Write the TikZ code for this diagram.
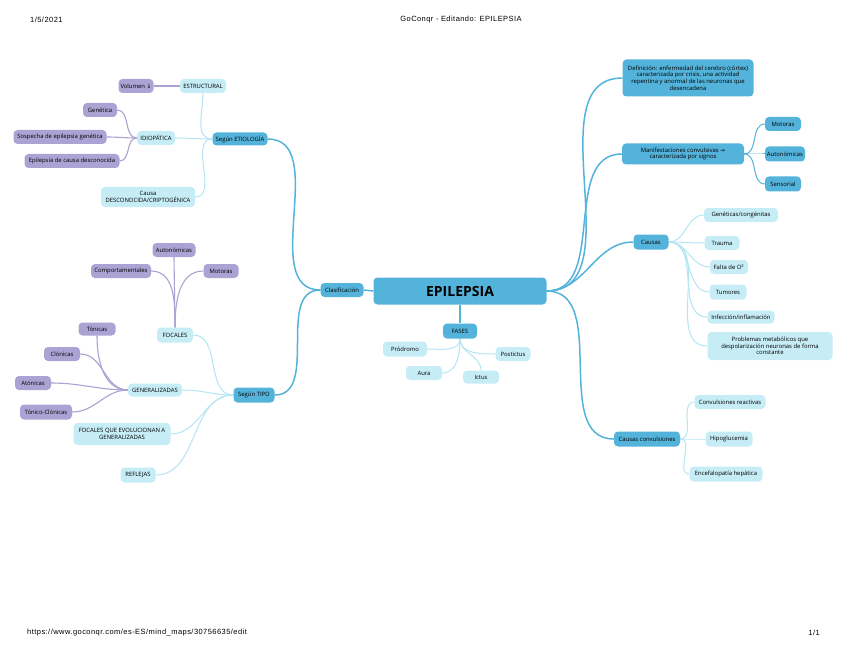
\documentclass[tikz,border=0pt]{standalone}
\usepackage{fontspec}
\setmainfont{Open Sans}
\newfontfamily\hdrfont[LetterSpace=6]{Liberation Sans}
\newfontfamily\symfont{DejaVu Sans}
\usetikzlibrary{backgrounds}
\definecolor{mainblue}{HTML}{54B3DA}
\definecolor{lightfill}{HTML}{C6ECF6}
\definecolor{purplefill}{HTML}{ABA3D3}
\definecolor{lightline}{HTML}{B3E5F3}
\definecolor{purpleline}{HTML}{AAA2D2}
\tikzset{
  box/.style={rounded corners=4pt, inner sep=1pt, align=center,
    font=\fontsize{5.9}{6.6}\selectfont, text=black},
  rootbox/.style={box, fill=mainblue, font=\fontsize{14}{16}\bfseries\selectfont},
  bluebox/.style={box, fill=mainblue},
  lightbox/.style={box, fill=lightfill},
  purplebox/.style={box, fill=purplefill},
  mainedge/.style={draw=mainblue, line width=1.5pt},
  blueedge/.style={draw=mainblue, line width=1pt},
  lightedge/.style={draw=lightline, line width=1pt},
  purpleedge/.style={draw=purpleline, line width=1.1pt},
  hdr/.style={font=\hdrfont\fontsize{7.5}{8.5}\selectfont, inner sep=0pt}
}
\newcommand{\bx}[6]{\node[#1, minimum width=#4pt, minimum height=#5pt] (#2) at (#3) {#6};}
\begin{document}
\begin{tikzpicture}[x=1pt,y=-1pt]
\useasboundingbox (0,0) rectangle (848,655);
% header / footer
\node[hdr, anchor=west] (date) at (30,20) {1/5/2021};
\node[hdr] (title) at (461,20) {GoConqr - Editando: EPILEPSIA};
\node[hdr, anchor=west] (url) at (27,633) {https://www.goconqr.com/es-ES/mind\_maps/30756635/edit};
\node[hdr, anchor=east] (page) at (820,633) {1/1};

% root
\bx{rootbox}{epi}{460,291}{173}{27}{EPILEPSIA}
\bx{bluebox}{clas}{342,290}{43}{14}{Clasificación}
% etiologia
\bx{bluebox}{etio}{240,139}{55}{13}{Según ETIOLOGÍA}
\bx{lightbox}{estr}{203,86}{46}{14}{ESTRUCTURAL}
\bx{purplebox}{vol}{136,86}{35}{14}{Volumen {\symfont↓}}
\bx{lightbox}{idio}{156,138}{38}{14}{IDIOPÁTICA}
\bx{purplebox}{gen}{100,110}{34}{14}{Genética}
\bx{purplebox}{sosp}{60,137}{93}{14}{Sospecha de epilepsia genética}
\bx{purplebox}{desc}{72,161}{95}{14}{Epilepsia de causa desconocida}
\bx{lightbox}{cripto}{148,197}{94}{20}{Causa\\DESCONOCIDA/CRIPTOGÉNICA}
% tipo
\bx{bluebox}{tipo}{254,395}{41}{15}{Según TIPO}
\bx{lightbox}{foc}{175,335}{36}{15}{FOCALES}
\bx{purplebox}{auto}{174,250}{43}{14}{Autonómicas}
\bx{purplebox}{comp}{121,271}{60}{14}{Comportamentales}
\bx{purplebox}{mot}{221,271}{35}{14}{Motoras}
\bx{lightbox}{gnr}{155,390}{54}{13}{GENERALIZADAS}
\bx{purplebox}{ton}{97,329}{37}{13}{Tónicas}
\bx{purplebox}{clon}{62,354}{36}{14}{Clónicas}
\bx{purplebox}{aton}{33,383}{36}{14}{Atónicas}
\bx{purplebox}{tc}{46,412}{52}{15}{Tónico-Clónicas}
\bx{lightbox}{fqe}{122,434}{97}{22}{FOCALES QUE EVOLUCIONAN A\\GENERALIZADAS}
\bx{lightbox}{refl}{138,475}{35}{15}{REFLEJAS}
% fases
\bx{bluebox}{fases}{460,331}{34}{15}{FASES}
\bx{lightbox}{prod}{405,349}{44}{15}{Pródromo}
\bx{lightbox}{aura}{424,373}{36}{14}{Aura}
\bx{lightbox}{ictus}{481,377}{36}{13}{Ictus}
\bx{lightbox}{post}{513,354}{35}{14}{Postictus}
% right side
\bx{bluebox}{def}{688,78}{131}{37}{Definición: enfermedad del cerebro (córtex)\\caracterizada por crisis, una actividad\\repentina y anormal de las neuronas que\\desencadena}
\bx{bluebox}{manif}{683,154}{122}{21}{Manifestaciones convulsivas {\symfont→}\\caracterizada por signos}
\bx{bluebox}{mot2}{783,124}{36}{14}{Motoras}
\bx{bluebox}{auto2}{785,154}{40}{15}{Autonómicas}
\bx{bluebox}{sens}{783,184}{36}{15}{Sensorial}
\bx{bluebox}{causas}{651,242}{35}{15}{Causas}
\bx{lightbox}{gencong}{741,215}{74}{14}{Genéticas/congénitas}
\bx{lightbox}{trauma}{722,243}{35}{14}{Trauma}
\bx{lightbox}{falta}{729,267}{38}{14}{Falta de O\textsuperscript{2}}
\bx{lightbox}{tum}{728,292}{37}{15}{Tumores}
\bx{lightbox}{infec}{741,317}{67}{13}{Infección/inflamación}
\bx{lightbox}{prob}{770,346}{125}{28}{Problemas metabólicos que\\despolarización neuronas de forma\\constante}
\bx{bluebox}{cconv}{647,439}{66}{15}{Causas convulsiones}
\bx{lightbox}{creact}{730,402}{71}{14}{Convulsiones reactivas}
\bx{lightbox}{hipo}{729,439}{47}{15}{Hipoglucemia}
\bx{lightbox}{ence}{726,474}{73}{15}{Encefalopatía hepática}

\begin{scope}[on background layer]
% main
\draw[mainedge] (epi.west) -- (clas.east);
\draw[mainedge] (clas.west) to[out=180,in=0] (etio.east);
\draw[mainedge] (clas.west) to[out=180,in=0] (tipo.east);
\draw[mainedge] (epi.south) -- (fases.north);
\draw[mainedge] (epi.east) to[out=0,in=180] (def.west);
\draw[mainedge] (epi.east) to[out=0,in=180] (manif.west);
\draw[mainedge] (epi.east) to[out=0,in=180] (causas.west);
\draw[mainedge] (epi.east) to[out=0,in=180] (cconv.west);
% etiologia
\draw[lightedge] (etio.west) to[out=180,in=-90] (estr.south);
\draw[lightedge] (etio.west) to[out=180,in=0] (idio.east);
\draw[lightedge] (etio.west) to[out=180,in=0] (cripto.east);
\draw[purpleedge] (estr.west) -- (vol.east);
\draw[purpleedge] (idio.west) to[out=180,in=0] (gen.east);
\draw[purpleedge] (idio.west) to[out=180,in=0] (sosp.east);
\draw[purpleedge] (idio.west) to[out=180,in=0] (desc.east);
% tipo
\draw[lightedge] (tipo.west) to[out=180,in=0] (foc.east);
\draw[lightedge] (tipo.west) to[out=180,in=0] (gnr.east);
\draw[lightedge] (tipo.west) to[out=180,in=0] (fqe.east);
\draw[lightedge] (tipo.west) to[out=180,in=0] (refl.east);
\draw[purpleedge] (foc.north) -- (auto.south);
\draw[purpleedge] (foc.north) to[out=90,in=0] (comp.east);
\draw[purpleedge] (foc.north) to[out=90,in=180] (mot.west);
\draw[purpleedge] (gnr.west) to[out=180,in=-90] (ton.south);
\draw[purpleedge] (gnr.west) to[out=180,in=0] (clon.east);
\draw[purpleedge] (gnr.west) to[out=180,in=0] (aton.east);
\draw[purpleedge] (gnr.west) to[out=180,in=0] (tc.east);
% fases
\draw[lightedge] (fases.south) to[out=-90,in=0] (prod.east);
\draw[lightedge] (fases.south) to[out=-90,in=0] (aura.east);
\draw[lightedge] (fases.south) to[out=-90,in=90] (ictus.north);
\draw[lightedge] (fases.south) to[out=-90,in=180] (post.west);
% right
\draw[blueedge] (manif.east) to[out=0,in=180] (mot2.west);
\draw[blueedge] (manif.east) to[out=0,in=180] (auto2.west);
\draw[blueedge] (manif.east) to[out=0,in=180] (sens.west);
\draw[lightedge] (causas.east) to[out=0,in=180] (gencong.west);
\draw[lightedge] (causas.east) to[out=0,in=180] (trauma.west);
\draw[lightedge] (causas.east) to[out=0,in=180] (falta.west);
\draw[lightedge] (causas.east) to[out=0,in=180] (tum.west);
\draw[lightedge] (causas.east) to[out=0,in=180] (infec.west);
\draw[lightedge] (causas.east) to[out=0,in=180] (prob.west);
\draw[lightedge] (cconv.east) to[out=0,in=180] (creact.west);
\draw[lightedge] (cconv.east) to[out=0,in=180] (hipo.west);
\draw[lightedge] (cconv.east) to[out=0,in=180] (ence.west);
\end{scope}
\end{tikzpicture}
\end{document}
